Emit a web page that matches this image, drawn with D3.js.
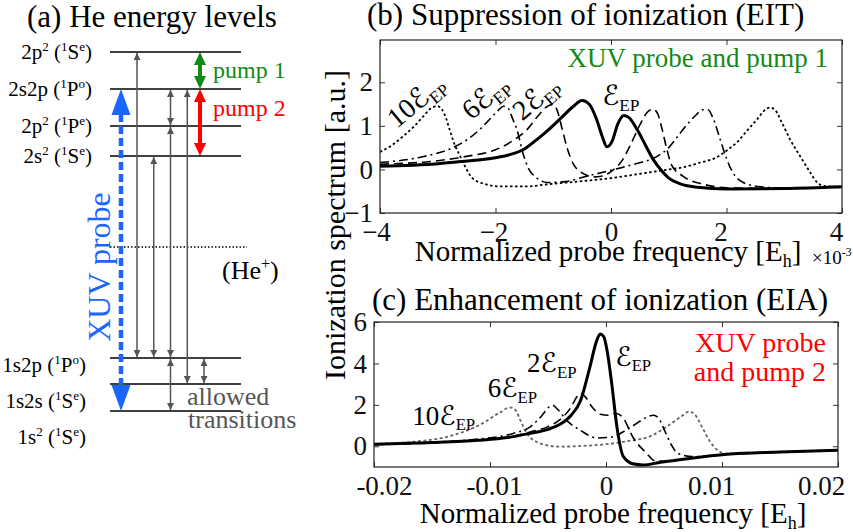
<!DOCTYPE html>
<html>
<head>
<meta charset="utf-8">
<script src="https://cdn.jsdelivr.net/npm/d3@7"></script>
<style>
  body { margin: 0; background: #fff; }
</style>
</head>
<body>
<svg id="fig" width="853" height="532" font-family='"Liberation Serif", "DejaVu Serif", serif'></svg>
<script>
// ---- panel (a): He level scheme (relative energies, arbitrary units) ----
const levelKeys = ["1s2", "1s2s", "1s2p", "2s2", "2p2P", "2s2p", "2p2S"];
const levelEnergy = [0, 27, 53, 255, 285, 322, 359];
const ionEnergy = 164; // He+ threshold
const levelLabels = [
  [["1s"], ["2", "sup"], [" ("], ["1", "sup"], ["S"], ["e", "sup"], [")"]],
  [["1s2s ("], ["1", "sup"], ["S"], ["e", "sup"], [")"]],
  [["1s2p ("], ["1", "sup"], ["P"], ["o", "sup"], [")"]],
  [["2s"], ["2", "sup"], [" ("], ["1", "sup"], ["S"], ["e", "sup"], [")"]],
  [["2p"], ["2", "sup"], [" ("], ["1", "sup"], ["P"], ["e", "sup"], [")"]],
  [["2s2p ("], ["1", "sup"], ["P"], ["o", "sup"], [")"]],
  [["2p"], ["2", "sup"], [" ("], ["1", "sup"], ["S"], ["e", "sup"], [")"]]
];
// allowed transitions: [column, from, to]
const transitions = [
  [0, "2p2S", "1s2p"],
  [1, "2s2", "1s2p"],
  [2, "2p2P", "1s2p"],
  [2, "2s2p", "2p2P"],
  [2, "1s2p", "1s2"],
  [3, "2s2p", "1s2s"],
  [4, "1s2p", "1s2s"]
];

// ---- panel (b): EIT, x in units of 1e-3 Eh ----
const eitSolid = [[-4,0.07],[-3,0.13],[-2.6,0.18],[-2,0.27],[-1.75,0.34],[-1.5,0.47],[-1.28,0.69],[-1.05,0.95],[-0.85,1.2],[-0.65,1.45],[-0.5,1.58],[-0.38,1.5],[-0.25,1.15],[-0.15,0.75],[-0.07,0.52],[0.02,0.65],[0.12,1.05],[0.22,1.24],[0.32,1.18],[0.45,0.92],[0.6,0.55],[0.73,0.23],[0.87,-0.02],[1.0,-0.2],[1.2,-0.33],[1.5,-0.41],[2,-0.45],[3,-0.44],[4,-0.4]];
const eit2 = [[-4,0.12],[-3,0.2],[-2.5,0.3],[-2,0.45],[-1.7,0.66],[-1.45,0.92],[-1.25,1.25],[-1.1,1.45],[-1.0,1.49],[-0.93,1.35],[-0.85,0.95],[-0.75,0.45],[-0.65,0.12],[-0.5,-0.08],[-0.3,-0.17],[-0.15,-0.15],[0,-0.05],[0.2,0.22],[0.35,0.6],[0.5,1.02],[0.62,1.3],[0.72,1.38],[0.8,1.3],[0.88,0.95],[0.96,0.5],[1.05,0.1],[1.25,-0.16],[1.6,-0.34],[2,-0.42],[3,-0.44],[4,-0.4]];
const eit6 = [[-4,0.16],[-3.3,0.28],[-2.74,0.5],[-2.45,0.72],[-2.27,0.92],[-2.1,1.15],[-1.97,1.33],[-1.86,1.45],[-1.78,1.4],[-1.7,1.15],[-1.63,0.92],[-1.52,0.35],[-1.42,0.0],[-1.3,-0.18],[-1.1,-0.3],[-0.8,-0.28],[-0.4,-0.15],[0,-0.02],[0.4,0.12],[0.8,0.3],[1.0,0.5],[1.15,0.75],[1.3,1.0],[1.45,1.22],[1.6,1.37],[1.68,1.37],[1.76,1.2],[1.89,0.69],[2.0,0.25],[2.1,-0.05],[2.29,-0.3],[2.6,-0.4],[3,-0.43],[4,-0.41]];
const eit10 = [[-4,0.4],[-3.8,0.55],[-3.6,0.76],[-3.4,1.0],[-3.25,1.22],[-3.1,1.42],[-3.0,1.45],[-2.93,1.38],[-2.85,1.15],[-2.78,0.85],[-2.7,0.55],[-2.61,0.3],[-2.5,0.0],[-2.4,-0.2],[-2.2,-0.33],[-1.92,-0.39],[-1.45,-0.39],[-1.1,-0.34],[-0.5,-0.27],[0,-0.2],[0.5,-0.1],[1.0,0.0],[1.25,0.05],[1.5,0.14],[1.83,0.28],[2.05,0.48],[2.18,0.62],[2.35,0.88],[2.53,1.15],[2.68,1.38],[2.75,1.42],[2.85,1.35],[2.95,1.1],[3.1,0.69],[3.3,0.25],[3.45,-0.07],[3.57,-0.3],[3.7,-0.38],[4,-0.4]];

// ---- panel (c): EIA, x in Eh ----
const eiaSolid = [[-0.02,0.1],[-0.015,0.18],[-0.011,0.29],[-0.0085,0.42],[-0.0066,0.62],[-0.005,0.82],[-0.004,1.05],[-0.003,1.5],[-0.0022,2.2],[-0.0014,3.8],[-0.0008,5.1],[-0.0005,5.42],[-0.0002,5.3],[0.0001,4.6],[0.0005,3.0],[0.00095,0.9],[0.0015,-0.5],[0.0024,-0.86],[0.0032,-0.9],[0.0047,-0.77],[0.007,-0.6],[0.0104,-0.39],[0.015,-0.28],[0.02,-0.19]];
const eia2 = [[-0.02,0.08],[-0.015,0.17],[-0.011,0.3],[-0.008,0.48],[-0.0066,0.68],[-0.005,0.95],[-0.004,1.27],[-0.003,1.9],[-0.0025,2.4],[-0.0022,2.56],[-0.0018,2.4],[-0.0012,1.9],[-0.0005,1.55],[0.0002,1.5],[0.0009,1.58],[0.0015,1.35],[0.0023,0.46],[0.0035,-0.34],[0.0042,-0.7],[0.0055,-0.72],[0.007,-0.6],[0.0104,-0.39],[0.015,-0.28],[0.02,-0.19]];
const eia6 = [[-0.02,0.1],[-0.015,0.2],[-0.011,0.35],[-0.008,0.62],[-0.0065,0.95],[-0.0055,1.5],[-0.0049,1.9],[-0.0046,1.98],[-0.0042,1.8],[-0.0033,1.2],[-0.0022,0.77],[-0.0008,0.4],[0.0005,0.45],[0.0015,0.7],[0.0025,1.05],[0.0035,1.4],[0.0041,1.5],[0.0046,1.3],[0.0051,0.7],[0.0056,0.1],[0.0062,-0.34],[0.0075,-0.5],[0.0104,-0.39],[0.015,-0.28],[0.02,-0.19]];
const eia10 = [[-0.02,0.11],[-0.0195,0.12],[-0.0166,0.22],[-0.0137,0.46],[-0.0109,1.03],[-0.0091,1.65],[-0.0083,1.88],[-0.0078,1.75],[-0.0074,1.28],[-0.007,0.8],[-0.0066,0.46],[-0.006,0.22],[-0.0051,0.05],[-0.004,-0.02],[-0.002,0.02],[0,0.1],[0.002,0.26],[0.0038,0.48],[0.0055,1.05],[0.0064,1.4],[0.0072,1.68],[0.0077,1.5],[0.0084,0.8],[0.009,0.2],[0.0096,-0.18],[0.0104,-0.36],[0.015,-0.28],[0.02,-0.18]];

const eitTicksX = [-4, -2, 0, 2, 4];
const eitTicksY = [-1, 0, 1, 2];
const eiaTicksX = [-0.02, -0.01, 0, 0.01, 0.02];
const eiaTicksY = [0, 2, 4, 6];

const svg = d3.select("#fig");
const scriptFont = '"DejaVu Serif","DejaVu Sans",serif';

// rich text: parts = [[text, kind]], kind: sup | sub | scr
function rich(text, parts, size) {
  let shift = 0;
  parts.forEach(([str, kind]) => {
    const target = kind === "sup" ? -0.4 * size : kind === "sub" ? 0.22 * size : 0;
    const t = text.append("tspan")
      .attr("dy", target - shift)
      .attr("font-size", kind === "sup" || kind === "sub" ? size * 0.62 : size)
      .text(str);
    if (kind === "scr") t.attr("font-family", scriptFont);
    shift = target;
  });
  return text;
}
const ep = mult => (mult ? [[mult]] : []).concat([["ℰ", "scr"], ["EP", "sub"]]);

/* ================= panel (a) ================= */
const ya = d3.scaleLinear().domain([0, 359]).range([411, 52]);
const colX = d3.scaleLinear().domain([0, 4]).range([137, 204]);
const E = k => levelEnergy[levelKeys.indexOf(k)];

svg.append("text").attr("x", 27).attr("y", 27).attr("font-size", 31)
  .text("(a) He energy levels");

const defs = svg.append("defs");
defs.append("marker").attr("id", "gh")
  .attr("viewBox", "0 0 10 10").attr("refX", 10).attr("refY", 5)
  .attr("markerWidth", 9).attr("markerHeight", 7)
  .attr("markerUnits", "userSpaceOnUse")
  .attr("orient", "auto-start-reverse")
  .append("path").attr("d", "M0,0L10,5L0,10Z").attr("fill", "#555");

const ga = svg.append("g");
ga.selectAll("line.level")
  .data(levelKeys)
  .join("line")
  .attr("class", "level")
  .attr("x1", 110).attr("x2", 241)
  .attr("y1", (d, i) => ya(levelEnergy[i]))
  .attr("y2", (d, i) => ya(levelEnergy[i]))
  .attr("stroke", "#000").attr("stroke-width", 1.5);

ga.append("line")
  .attr("x1", 110).attr("x2", 247)
  .attr("y1", ya(ionEnergy)).attr("y2", ya(ionEnergy))
  .attr("stroke", "#000").attr("stroke-width", 1.3)
  .attr("stroke-dasharray", "1.5,2");

const labelDy = [26, 17, 7, 0, 0, 0, 0];
levelLabels.forEach((parts, i) => {
  const fs = 21;
  const t = ga.append("text")
    .attr("x", i < 3 ? 86 : 92)
    .attr("y", ya(levelEnergy[i]) + labelDy[i] + 0.33 * fs)
    .attr("text-anchor", "end")
    .attr("font-size", fs);
  rich(t, parts, fs);
});

ga.selectAll("line.tr")
  .data(transitions)
  .join("line")
  .attr("class", "tr")
  .attr("x1", d => colX(d[0])).attr("x2", d => colX(d[0]))
  .attr("y1", d => ya(E(d[1])) + 1)
  .attr("y2", d => ya(E(d[2])) - 1)
  .attr("stroke", "#555").attr("stroke-width", 1.5)
  .attr("marker-start", "url(#gh)").attr("marker-end", "url(#gh)");

// big double arrows
function bigArrow(x, y1, y2, color, w, hw, hl, dash) {
  ga.append("line")
    .attr("x1", x).attr("x2", x)
    .attr("y1", y1 + hl - 1).attr("y2", y2 - hl + 1)
    .attr("stroke", color).attr("stroke-width", w)
    .attr("stroke-dasharray", dash || null);
  ga.append("path")
    .attr("d", `M${x},${y1}L${x + hw / 2},${y1 + hl}L${x - hw / 2},${y1 + hl}Z`)
    .attr("fill", color);
  ga.append("path")
    .attr("d", `M${x},${y2}L${x + hw / 2},${y2 - hl}L${x - hw / 2},${y2 - hl}Z`)
    .attr("fill", color);
}
bigArrow(121, ya(E("2s2p")), ya(E("1s2")), "#1a66ff", 4.5, 19, 26, "8,4");
bigArrow(200, ya(E("2p2S")), ya(E("2s2p")), "#138a13", 4, 12, 13);
bigArrow(200, ya(E("2s2p")), ya(E("2s2")), "#ff0000", 4, 12, 13);

ga.append("text").attr("x", 213).attr("y", 78).attr("font-size", 24)
  .attr("fill", "#138a13").text("pump 1");
ga.append("text").attr("x", 213).attr("y", 116).attr("font-size", 24)
  .attr("fill", "#ff0000").text("pump 2");
ga.append("text")
  .attr("transform", "translate(110,267) rotate(-90)")
  .attr("text-anchor", "middle").attr("font-size", 32)
  .attr("fill", "#1a66ff").text("XUV probe");
rich(ga.append("text").attr("x", 222).attr("y", 279).attr("font-size", 26),
  [["(He"], ["+", "sup"], [")"]], 26);
ga.append("text").attr("x", 187).attr("y", 405).attr("font-size", 26)
  .attr("fill", "#555").text("allowed");
ga.append("text").attr("x", 188).attr("y", 428).attr("font-size", 26)
  .attr("fill", "#555").text("transitions");

/* ================= panels (b), (c) ================= */
const styles = {
  solid: { w: 3, dash: null, color: "#000" },
  dash: { w: 1.6, dash: "9,5", color: "#000" },
  dashdot: { w: 1.6, dash: "9,4,2,4", color: "#000" },
  dot: { w: 1.8, dash: "2.5,2.5", color: "#000" },
  graydot: { w: 1.8, dash: "3,2.5", color: "#666" }
};

function panel(id, x, y, ticksX, ticksY, fmtX, labelShift, series) {
  const g = svg.append("g");
  const [x0, x1] = x.range(), [y0, y1] = y.range();
  g.append("clipPath").attr("id", id).append("rect")
    .attr("x", x0).attr("y", y1).attr("width", x1 - x0).attr("height", y0 - y1);
  const line = d3.line().x(d => x(d[0])).y(d => y(d[1])).curve(d3.curveMonotoneX);
  g.append("g").attr("clip-path", `url(#${id})`)
    .selectAll("path")
    .data(series)
    .join("path")
    .attr("d", d => line(d.data))
    .attr("fill", "none")
    .attr("stroke", d => styles[d.style].color)
    .attr("stroke-width", d => styles[d.style].w)
    .attr("stroke-dasharray", d => styles[d.style].dash);

  const axes = [
    [d3.axisBottom(x).tickValues(ticksX).tickFormat(fmtX).tickPadding(9), y0, 0],
    [d3.axisTop(x).tickValues(ticksX).tickFormat(""), y1, 0],
    [d3.axisLeft(y).tickValues(ticksY).tickFormat(d3.format("d")).tickPadding(7), 0, x0],
    [d3.axisRight(y).tickValues(ticksY).tickFormat(""), 0, x1]
  ];
  axes.forEach(([ax, ty, tx], k) => {
    const a = g.append("g")
      .attr("transform", `translate(${tx},${ty})`)
      .call(ax.tickSize(-5).tickSizeOuter(0))
      .attr("font-family", null).attr("font-size", null);
    a.select(".domain").remove();
    a.selectAll("line").attr("stroke", "#333");
    a.selectAll("text").attr("font-size", 27).attr("fill", "#111");
    if (k === 0) a.selectAll("text").attr("dx", (d, i) => labelShift[i]);
  });
  g.append("rect")
    .attr("x", x0).attr("y", y1).attr("width", x1 - x0).attr("height", y0 - y1)
    .attr("fill", "none").attr("stroke", "#222").attr("stroke-width", 1.2);
  return g;
}

const xb = d3.scaleLinear().domain([-4, 4]).range([380, 842]);
const yb = d3.scaleLinear().domain([-1, 2.97]).range([213, 40]);
const gb = panel("clipb", xb, yb, eitTicksX, eitTicksY, d3.format("d"), [-4, -2, 0, -6, -6], [
  { data: eit10, style: "dot" },
  { data: eit6, style: "dashdot" },
  { data: eit2, style: "dash" },
  { data: eitSolid, style: "solid" }
]);

const xc = d3.scaleLinear().domain([-0.02, 0.02]).range([374, 838]);
const yc = d3.scaleLinear().domain([-1, 6]).range([467, 322]);
const gc = panel("clipc", xc, yc, eiaTicksX, eiaTicksY, d => (d === 0 ? "0" : d.toFixed(2)), [10, 4, 0, -11, -17], [
  { data: eia10, style: "graydot" },
  { data: eia6, style: "dashdot" },
  { data: eia2, style: "dash" },
  { data: eiaSolid, style: "solid" }
]);

// titles
svg.append("text").attr("x", 367).attr("y", 25).attr("font-size", 31)
  .text("(b) Suppression of ionization (EIT)");
svg.append("text").attr("x", 372).attr("y", 310).attr("font-size", 31)
  .text("(c) Enhancement of ionization (EIA)");

// axis labels
const xlab = [["Normalized probe frequency [E"], ["h", "sub"], ["]"]];
rich(svg.append("text").attr("x", 608).attr("y", 261).attr("text-anchor", "middle").attr("font-size", 29), xlab, 29);
rich(svg.append("text").attr("x", 613).attr("y", 523).attr("text-anchor", "middle").attr("font-size", 29), xlab, 29);
rich(svg.append("text").attr("x", 812).attr("y", 264).attr("font-size", 19),
  [["×10"], ["-3", "sup"]], 19);
svg.append("text")
  .attr("transform", "translate(345,225) rotate(-90)")
  .attr("text-anchor", "middle").attr("font-size", 30)
  .text("Ionization spectrum [a.u.]");

// curve labels, panel (b)
const eitLabels = [["10", -3.38, 1.57, -40], ["6", -2.18, 1.66, -40], ["2", -1.3, 1.64, -40], ["", 0.17, 1.69, 0]];
eitLabels.forEach(([m, lx, ly, rot]) => {
  const fs = 28;
  const t = gb.append("text")
    .attr("transform", `translate(${xb(lx)},${yb(ly)}) rotate(${rot})`)
    .attr("y", 0.33 * fs)
    .attr("text-anchor", "middle")
    .attr("font-size", fs);
  rich(t, ep(m), fs);
});
// curve labels, panel (c)
const eiaLabels = [["10", -0.0167, 1.05], ["6", -0.0102, 2.4], ["2", -0.0068, 3.6], ["", 0.0008, 3.9]];
eiaLabels.forEach(([m, lx, ly]) => {
  const fs = 27;
  rich(gc.append("text").attr("x", xc(lx)).attr("y", yc(ly)).attr("font-size", fs), ep(m), fs);
});

// legends
svg.append("text").attr("x", 828).attr("y", 67).attr("text-anchor", "end")
  .attr("font-size", 27).attr("fill", "#138a13").text("XUV probe and pump 1");
svg.append("text").attr("x", 826).attr("y", 352).attr("text-anchor", "end")
  .attr("font-size", 28).attr("fill", "#ff0000").text("XUV probe");
svg.append("text").attr("x", 826).attr("y", 381).attr("text-anchor", "end")
  .attr("font-size", 28).attr("fill", "#ff0000").text("and pump 2");
</script>
</body>
</html>
